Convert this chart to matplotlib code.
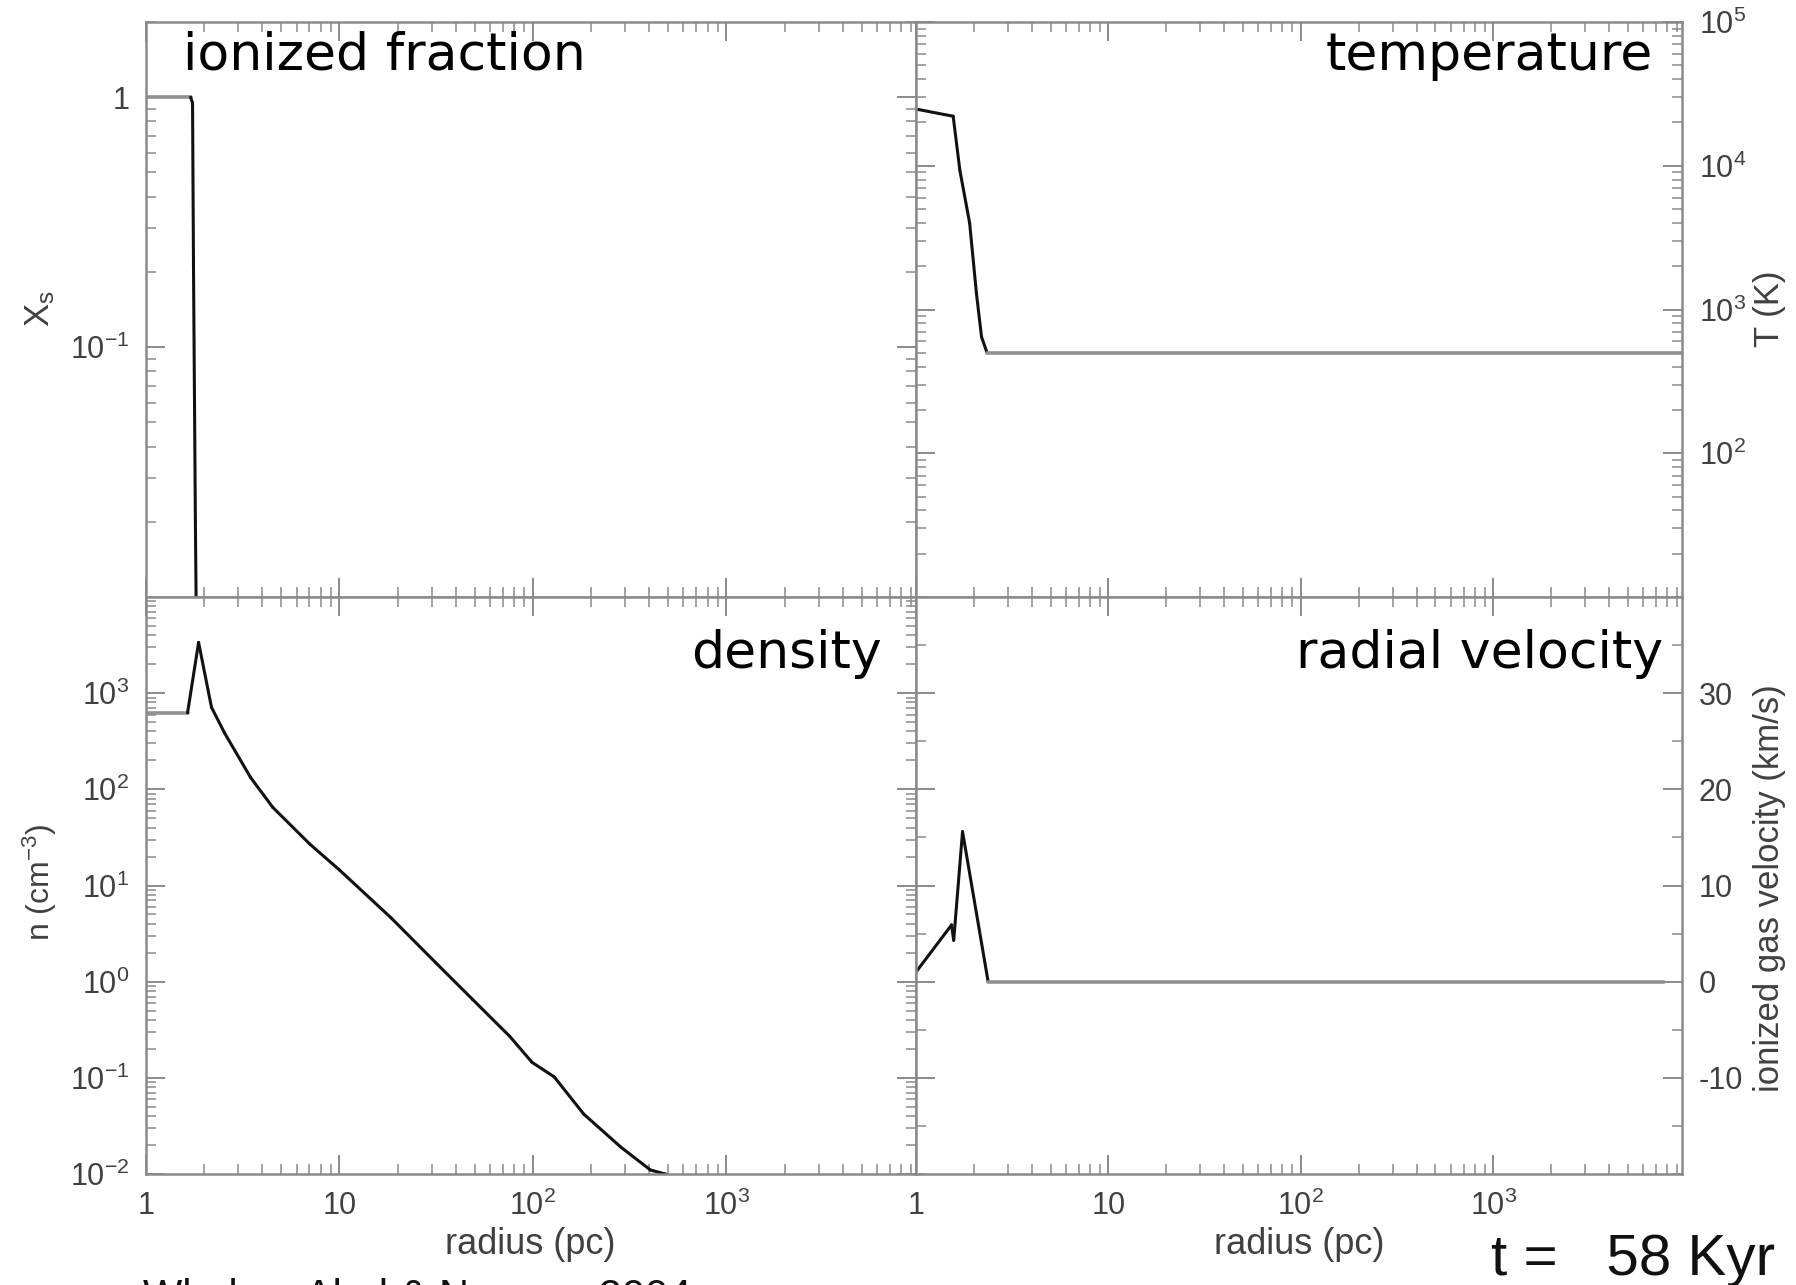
import numpy as np
import matplotlib.pyplot as plt
from matplotlib.ticker import FixedLocator, FixedFormatter, LogLocator, MultipleLocator, NullFormatter

plt.rcParams['font.family'] = ['Liberation Sans', 'DejaVu Sans']
plt.rcParams['mathtext.fontset'] = 'custom'
plt.rcParams['mathtext.rm'] = 'Liberation Sans'
plt.rcParams['mathtext.it'] = 'Liberation Sans'

# profiles (radius in pc)
r_xs = [1.0, 1.70, 1.74, 1.76, 1.80, 1.83]
xs = [1.0, 1.0, 0.95, 0.21, 0.02, 0.005]

r_temp = [1.0, 1.56, 1.69, 1.90, 2.06, 2.19, 2.34, 9550]
temp = [24800, 22100, 9300, 3990, 1300, 645, 500, 500]

r_dens = [1.0, 1.64, 1.87, 2.18, 2.55, 3.47, 4.52, 7.02, 10.0, 18.5, 31.4,
          48.9, 75.9, 98.9, 129, 183, 285, 405, 483, 540]
dens = [625, 625, 3370, 713, 384, 133, 65, 27, 14.5, 4.6, 1.58,
        0.65, 0.27, 0.145, 0.102, 0.042, 0.019, 0.011, 0.0100, 0.009]

r_vel = [1.0, 1.53, 1.57, 1.745, 2.37, 7700]
vel = [1.0, 5.9, 4.3, 15.6, 0.0, 0.0]

x_ticks = [1, 10, 100, 1000]
x_ticklabels = ['1', '10', '$10^2$', '$10^3$']
xs_ticks = [1, 0.1]
xs_ticklabels = ['1', '$10^{-1}$']
temp_ticks = [1e2, 1e3, 1e4, 1e5]
temp_ticklabels = ['$10^2$', '$10^3$', '$10^4$', '$10^5$']
dens_ticks = [1e-2, 1e-1, 1, 10, 100, 1000]
dens_ticklabels = ['$10^{-2}$', '$10^{-1}$', '$10^0$', '$10^1$', '$10^2$', '$10^3$']
vel_ticks = [-10, 0, 10, 20, 30]
vel_ticklabels = ['-10', '0', '10', '20', '30']

W, H = 1796, 1285
fig = plt.figure(figsize=(W / 100, H / 100), dpi=100)
fig.patch.set_facecolor('white')

x0, xm, x1 = 146 / W, 916 / W, 1682 / W
y_top, y_mid, y_bot = 1 - 22 / H, 1 - 597 / H, 1 - 1174 / H
pw, ph = xm - x0, y_top - y_mid

ax_x = fig.add_axes([x0, y_mid, pw, ph])
ax_t = fig.add_axes([xm, y_mid, x1 - xm, ph])
ax_n = fig.add_axes([x0, y_bot, pw, y_mid - y_bot])
ax_v = fig.add_axes([xm, y_bot, x1 - xm, y_mid - y_bot])

FRAME = '#8a8a8a'
LAB = '#404040'


def draw_profile(ax, r, y):
    for i in range(len(r) - 1):
        flat = y[i] == y[i + 1]
        ax.plot(r[i:i + 2], y[i:i + 2], color='#909090' if flat else '#111111',
                lw=2.6 if flat else 2.2, solid_capstyle='round')


def style(ax, labelleft, labelright, labelbottom):
    ax.set_xscale('log')
    ax.set_xlim(1, 10 ** 3.98)
    for s in ax.spines.values():
        s.set_color(FRAME)
        s.set_linewidth(1.8)
    ax.tick_params(which='both', direction='in', top=True, right=True, left=True,
                   bottom=True, color=FRAME, labelcolor=LAB, labelsize=22,
                   labelleft=labelleft, labelright=labelright,
                   labelbottom=labelbottom, labeltop=False)
    ax.tick_params(which='major', length=14, width=1.4, pad=12)
    ax.tick_params(which='minor', length=7, width=1.1)
    ax.xaxis.set_major_locator(FixedLocator(x_ticks))
    ax.xaxis.set_major_formatter(FixedFormatter(x_ticklabels))
    ax.xaxis.set_minor_locator(LogLocator(base=10, subs=np.arange(2, 10)))
    ax.xaxis.set_minor_formatter(NullFormatter())


# ionized fraction
draw_profile(ax_x, r_xs, xs)
style(ax_x, True, False, False)
ax_x.set_yscale('log')
ax_x.set_ylim(0.01, 2.0)
ax_x.yaxis.set_major_locator(FixedLocator(xs_ticks))
ax_x.yaxis.set_major_formatter(FixedFormatter(xs_ticklabels))

# temperature
draw_profile(ax_t, r_temp, temp)
style(ax_t, False, True, False)
ax_t.set_yscale('log')
ax_t.set_ylim(10, 1e5)
ax_t.yaxis.set_major_locator(FixedLocator(temp_ticks))
ax_t.yaxis.set_major_formatter(FixedFormatter(temp_ticklabels))

# density
draw_profile(ax_n, r_dens, dens)
style(ax_n, True, False, True)
ax_n.set_yscale('log')
ax_n.set_ylim(1e-2, 1e4)
ax_n.yaxis.set_major_locator(FixedLocator(dens_ticks))
ax_n.yaxis.set_major_formatter(FixedFormatter(dens_ticklabels))

# velocity
draw_profile(ax_v, r_vel, vel)
style(ax_v, False, True, True)
ax_v.set_ylim(-20, 40)
ax_v.yaxis.set_major_locator(FixedLocator(vel_ticks))
ax_v.yaxis.set_major_formatter(FixedFormatter(vel_ticklabels))
ax_v.yaxis.set_minor_locator(MultipleLocator(5))

for ax in (ax_x, ax_t, ax_n, ax_v):
    ax.yaxis.set_minor_formatter(NullFormatter())
    if ax.get_yscale() == 'log':
        ax.yaxis.set_minor_locator(LogLocator(base=10, subs=np.arange(2, 10)))

# panel names
title_kw = dict(fontsize=37.5, color='black', family='DejaVu Sans')
fig.text(183 / W, 1 - 56 / H, 'ionized fraction', ha='left', va='center', **title_kw)
fig.text(1653 / W, 1 - 56 / H, 'temperature', ha='right', va='center', **title_kw)
fig.text(882 / W, 1 - 654 / H, 'density', ha='right', va='center', **title_kw)
fig.text(1663 / W, 1 - 654 / H, 'radial velocity', ha='right', va='center', **title_kw)

# axis labels
lab_kw = dict(color=LAB, rotation=90, ha='center', va='center')
fig.text(40 / W, 1 - 309 / H, 'X$_s$', fontsize=25, **lab_kw)
fig.text(40 / W, 1 - 882 / H, 'n (cm$^{-3}$)', fontsize=23, **lab_kw)
fig.text(1770 / W, 1 - 309 / H, 'T (K)', fontsize=25, **lab_kw)
fig.text(1770 / W, 1 - 888 / H, 'ionized gas velocity (km/s)', fontsize=25, **lab_kw)
fig.text(530 / W, 1 - 1244 / H, 'radius (pc)', fontsize=26, color=LAB, ha='center', va='center')
fig.text(1299 / W, 1 - 1244 / H, 'radius (pc)', fontsize=26, color=LAB, ha='center', va='center')

fig.text(1775 / W, 1 - 1260 / H, 't =   58 Kyr', fontsize=42, color='#111111', ha='right', va='center')
fig.text(143 / W, 1 - 1277 / H, 'Whalen, Abel & Norman 2004', fontsize=30, color='#111111',
         ha='left', va='top')

fig.savefig('out.png', dpi=100, facecolor='white')
